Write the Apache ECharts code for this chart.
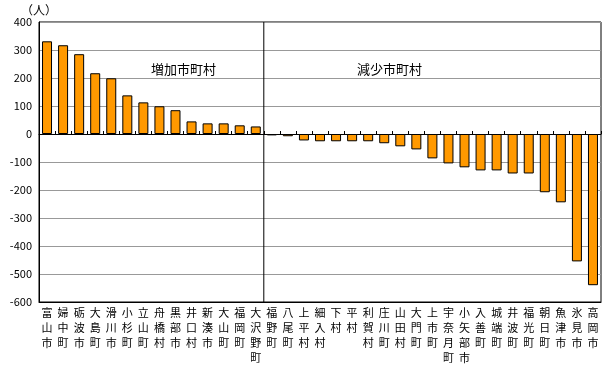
<!DOCTYPE html>
<html><head><meta charset="utf-8">
<script src="https://cdn.jsdelivr.net/npm/echarts@6/dist/echarts.min.js"></script>
<style>html,body{margin:0;padding:0;background:#fff}#c{width:605px;height:373px}</style>
</head><body><div id="c"></div>
<script>
var categories = ['富山市','婦中町','砺波市','大島町','滑川市','小杉町','立山町','舟橋村','黒部市','井口村','新湊市','大山町','福岡町','大沢野町',
  '福野町','八尾町','上平村','細入村','下村','平村','利賀村','庄川町','山田村','大門町','上市町','宇奈月町','小矢部市','入善町','城端町','井波町','福光町','朝日町','魚津市','氷見市','高岡市'];
var values = [331,317,285,217,199,138,113,99,85,45,38,38,31,27,
  -5,-8,-23,-26,-26,-26,-26,-33,-44,-55,-87,-105,-119,-130,-130,-141,-141,-208,-244,-455,-540];
var increaseCount = 14;
var yTicks = {min:-600, max:400, interval:100};
var unitLabel = '（人）';
var groupLabels = ['増加市町村','減少市町村'];

var FONT = '"Noto Sans CJK JP", sans-serif';
var chart = echarts.init(document.getElementById('c'), null, {renderer:'canvas'});
var option = {
  animation:false,
  grid:{left:39,right:4,top:22,bottom:71,show:true,borderColor:'#000',borderWidth:1,backgroundColor:'transparent'},
  xAxis:[
    {type:'category',data:categories,position:'bottom',
     axisLine:{onZero:false,lineStyle:{color:'#000'}},axisTick:{show:false},
     axisLabel:{interval:0,fontFamily:FONT,fontSize:11,color:'#000',lineHeight:15,margin:3,
       formatter:function(v){return v.split('').join('\n');}}},
    {type:'category',data:categories,position:'bottom',
     axisLine:{onZero:true,lineStyle:{color:'#000'}},
     axisTick:{show:true,inside:true,length:3,interval:0,lineStyle:{color:'#000'}},
     axisLabel:{show:false}},
    {type:'value',min:0,max:categories.length,show:false}
  ],
  yAxis:{type:'value',min:yTicks.min,max:yTicks.max,interval:yTicks.interval,
    name:unitLabel,nameLocation:'end',nameGap:3,
    nameTextStyle:{fontFamily:FONT,fontSize:12,color:'#000',align:'center'},
    axisLine:{show:true,lineStyle:{color:'#000'}},axisTick:{show:false},
    axisLabel:{fontFamily:FONT,fontSize:11,color:'#000',margin:7},
    splitLine:{lineStyle:{color:'#999',width:1}}},
  series:[
    {type:'bar',data:values,xAxisIndex:0,barWidth:10,
     itemStyle:{color:'#FF9900',borderColor:'#000',borderWidth:1}},
    {type:'line',xAxisIndex:2,data:[[increaseCount,yTicks.max],[increaseCount,yTicks.min]],
     symbol:'none',silent:true,lineStyle:{color:'#000',width:1}}
  ],
  graphic:[
    {type:'text',left:151,top:63,style:{text:groupLabels[0],font:'13px '+FONT,fill:'#000'}},
    {type:'text',left:357,top:63,style:{text:groupLabels[1],font:'13px '+FONT,fill:'#000'}}
  ]
};
chart.setOption(option);
</script></body></html>
